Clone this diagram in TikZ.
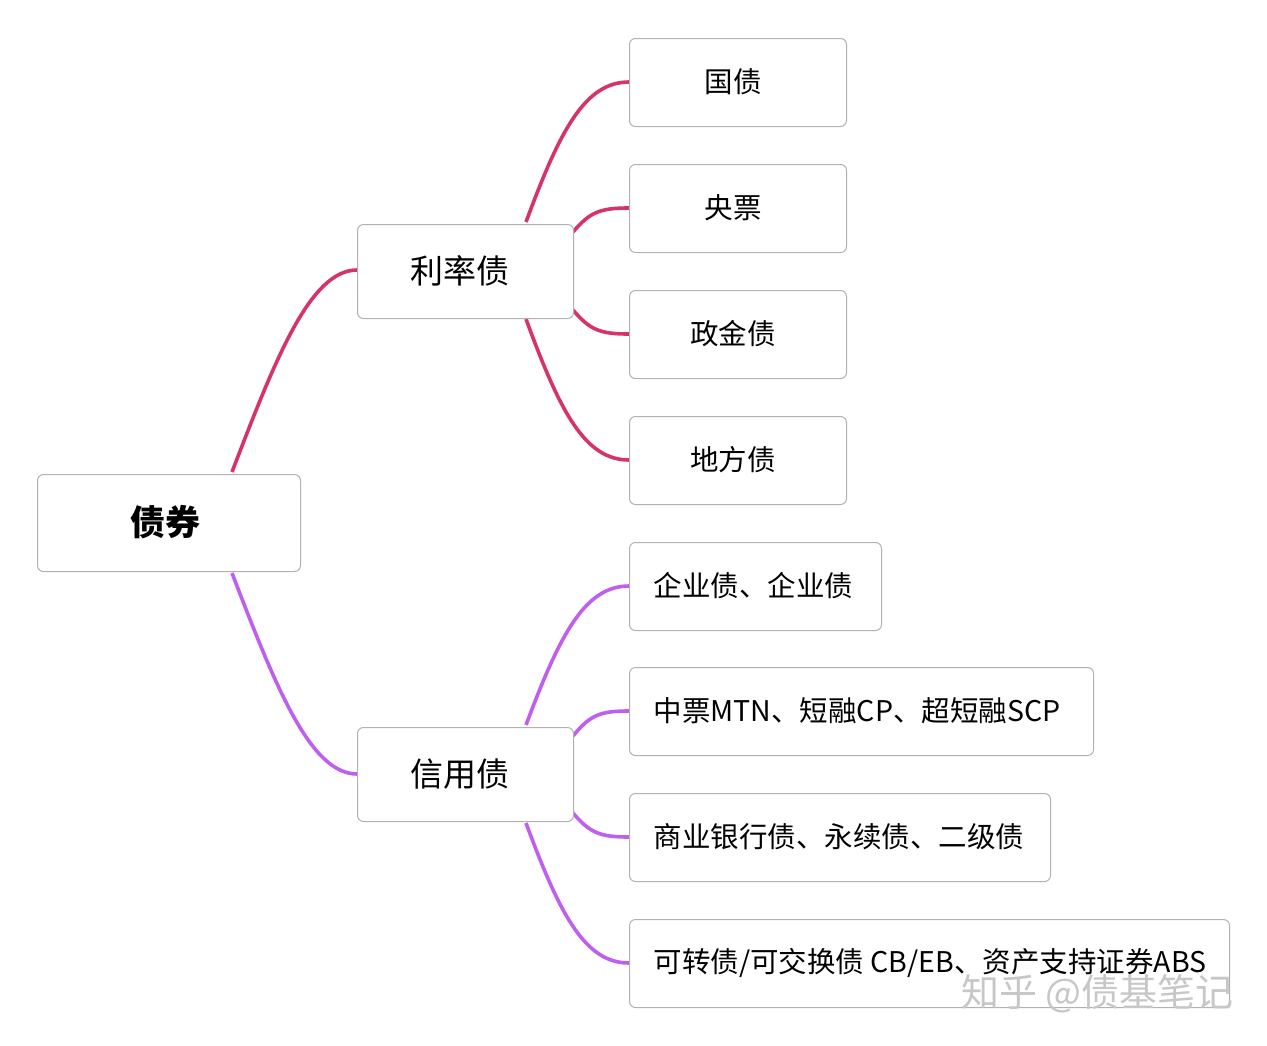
\documentclass[tikz,border=0pt]{standalone}
\usepackage{fontspec}
\setmainfont{Noto Sans CJK SC}
\begin{document}
\begin{tikzpicture}[x=1pt,y=-1pt,
  box/.style={draw=black!30,line width=1pt,rounded corners=6pt,fill=white,anchor=north west,inner sep=0pt},
  red/.style={draw={rgb,255:red,214;green,52;blue,105},line width=3.6pt},
  pur/.style={draw={rgb,255:red,190;green,95;blue,240},line width=3.6pt},
  lbl/.style={font=\fontsize{28.5}{32}\selectfont}]
\useasboundingbox (0,0) rectangle (1267,1045);
\coordinate (rt) at (232,472); \coordinate (rb) at (232,573);
\coordinate (lt) at (526,222); \coordinate (lb) at (526,319);
\coordinate (ct) at (526,725); \coordinate (cb) at (526,823);
\coordinate (lr1) at (573,232); \coordinate (lr2) at (573,310);
\coordinate (cr1) at (573,736); \coordinate (cr2) at (573,813);
\draw[red] (rt) .. controls (275,360) and (310,270) .. (357,270);
\draw[pur] (rb) .. controls (275,685) and (310,774) .. (357,774);
\draw[red] (lt) .. controls (560,130) and (585,82) .. (629,82);
\draw[red] (lr1) .. controls (590,212) and (600,208) .. (629,208);
\draw[red] (lr2) .. controls (590,330) and (600,334) .. (629,334);
\draw[red] (lb) .. controls (560,412) and (585,460) .. (629,460);
\draw[pur] (ct) .. controls (560,634) and (585,586) .. (629,586);
\draw[pur] (cr1) .. controls (590,715) and (600,711) .. (629,711);
\draw[pur] (cr2) .. controls (590,833) and (600,837) .. (629,837);
\draw[pur] (cb) .. controls (560,915) and (585,963) .. (629,963);
\node[box,minimum width=263pt,minimum height=97pt] (root) at (37,474) {};
\node[font=\fontsize{35}{40}\selectfont\bfseries] at (165,522.5) {债券};
\node[box,minimum width=216pt,minimum height=94pt] (l) at (357,224) {};
\node[font=\fontsize{33}{38}\selectfont] at (460,270.5) {利率债};
\node[box,minimum width=216pt,minimum height=94pt] (c) at (357,727) {};
\node[font=\fontsize{33}{38}\selectfont] at (460,774) {信用债};
\node[box,minimum width=217pt,minimum height=88pt] (a1) at (629,38) {};
\node[lbl] at (733,82) {国债};
\node[box,minimum width=217pt,minimum height=88pt] (a2) at (629,164) {};
\node[lbl] at (733,208) {央票};
\node[box,minimum width=217pt,minimum height=88pt] (a3) at (629,290) {};
\node[lbl] at (733,334) {政金债};
\node[box,minimum width=217pt,minimum height=88pt] (a4) at (629,416) {};
\node[lbl] at (733,460) {地方债};
\node[box,minimum width=252pt,minimum height=88pt] (b1) at (629,542) {};
\node[lbl,anchor=west] at (650,586) {企业债、企业债};
\node[box,minimum width=464pt,minimum height=88pt] (b2) at (629,667) {};
\node[lbl,anchor=west] at (650,711) {中票MTN、短融CP、超短融SCP};
\node[box,minimum width=421pt,minimum height=88pt] (b3) at (629,793) {};
\node[lbl,anchor=west] at (650,837) {商业银行债、永续债、二级债};
\node[box,minimum width=600pt,minimum height=88pt] (b4) at (629,919) {};
\node[lbl,anchor=west] at (650,963) {可转债/可交换债 CB/EB、资产支持证券ABS};
\node[font=\fontsize{38}{42}\selectfont,text=black!22,anchor=east] at (1237,994) {知乎 @债基笔记};
\end{tikzpicture}
\end{document}
